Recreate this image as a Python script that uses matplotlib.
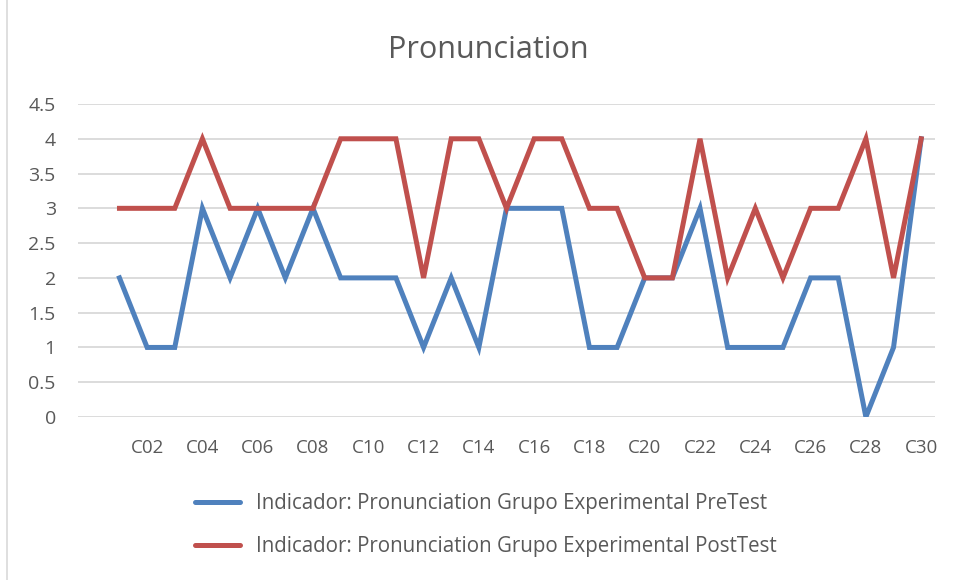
import numpy as np
import matplotlib.pyplot as plt
from matplotlib.lines import Line2D

# categories C01..C30 (an empty slot sits before C01 on the axis)
cats = ["C%02d" % i for i in range(1, 31)]
pre = [2, 1, 1, 3, 2, 3, 2, 3, 2, 2, 2, 1, 2, 1, 3, 3, 3, 1, 1, 2,
       2, 3, 1, 1, 1, 2, 2, 0, 1, 4]
post = [3, 3, 3, 4, 3, 3, 3, 3, 4, 4, 4, 2, 4, 4, 3, 4, 4, 3, 3, 2,
        2, 4, 2, 3, 2, 3, 3, 4, 2, 4]
yticks = [0, 0.5, 1, 1.5, 2, 2.5, 3, 3.5, 4, 4.5]

grey = "#595959"
plt.rcParams['font.family'] = ['Open Sans', 'DejaVu Sans']

fig = plt.figure(figsize=(9.6, 5.8), dpi=100)
ax = fig.add_axes([78/960, 1-417/580, (935-78)/960, (417-104)/580])

x = np.arange(1, len(cats)+1)
ax.plot(x, pre, color="#4F81BD", lw=3.6, solid_joinstyle="miter",
        label="Indicador: Pronunciation Grupo Experimental PreTest", zorder=3)
ax.plot(x, post, color="#C0504D", lw=3.6, solid_joinstyle="miter",
        label="Indicador: Pronunciation Grupo Experimental PostTest", zorder=3)

ax.set_xlim(-0.5, len(cats)+0.5)
ax.set_ylim(0, 4.5)
ax.set_yticks(yticks)
ax.set_yticklabels(["%g" % v for v in yticks])
ax.set_xticks(x[1::2])
ax.set_xticklabels(cats[1::2])
ax.tick_params(length=0, colors=grey, labelsize=13.5)
ax.tick_params(axis='y', pad=16, labelsize=14)
ax.tick_params(axis='x', pad=16)
ax.grid(axis='y', color="#D9D9D9", lw=1.3)
ax.set_axisbelow(True)
for s in ax.spines.values():
    s.set_visible(False)

fig.text(488/960, 1-50/580, "Pronunciation", ha="center", va="center",
         fontsize=22, color=grey)

leg = fig.legend(loc="center left", bbox_to_anchor=(195/960, 1-525/580),
                 frameon=False, fontsize=14.8, labelcolor=grey,
                 handlelength=2.2, handletextpad=0.75, labelspacing=1.1,
                 borderpad=0, borderaxespad=0)
for h in leg.get_lines():
    h.set_solid_capstyle("round")

# chart frame on the left edge
fig.add_artist(Line2D([7/960, 7/960], [0, 1], color="#D9D9D9", lw=1.2))

fig.savefig("out.png", dpi=100)
